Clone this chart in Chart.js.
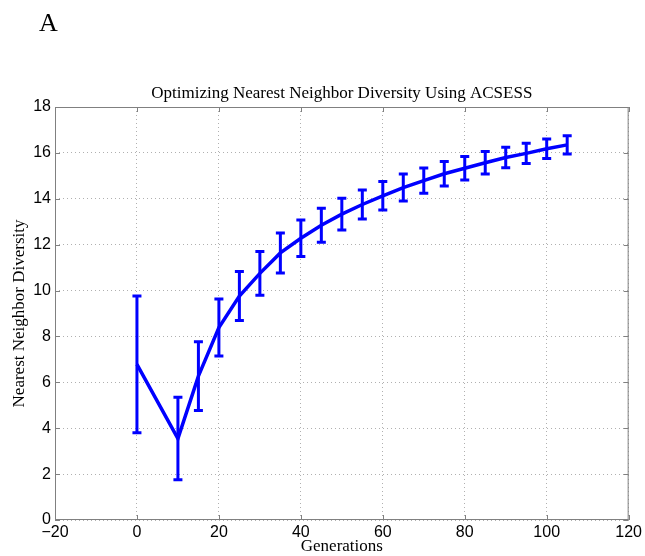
<!DOCTYPE html>
<html>
<head>
<meta charset="utf-8">
<script src="https://cdn.jsdelivr.net/npm/chart.js@4.4.0/dist/chart.umd.min.js"></script>
<style>
  body { margin: 0; background: #fff; }
  #wrap { position: relative; width: 645px; height: 556px; }
  #panel { position: absolute; left: 39px; top: 10px; font: 26px/26px "Liberation Serif", serif; color: #000; }
</style>
</head>
<body>
<div id="wrap">
  <div id="panel">A</div>
  <canvas id="myChart" width="645" height="556"></canvas>
</div>
<script>
  // generations and mean diversity with error (+/-)
  const generations = [0, 10, 15, 20, 25, 30, 35, 40, 45, 50, 55, 60, 65, 70, 75, 80, 85, 90, 95, 100, 105];
  const diversity = [6.78, 3.55, 6.27, 8.39, 9.76, 10.75, 11.64, 12.28, 12.85, 13.33, 13.75, 14.13, 14.49, 14.79, 15.09, 15.33, 15.57, 15.80, 15.98, 16.18, 16.35];
  const errors = [2.98, 1.80, 1.50, 1.24, 1.07, 0.95, 0.87, 0.80, 0.74, 0.69, 0.63, 0.62, 0.59, 0.55, 0.53, 0.51, 0.49, 0.45, 0.44, 0.42, 0.40];
  const xTicks = [-20, 0, 20, 40, 60, 80, 100, 120];
  const yTicks = [0, 2, 4, 6, 8, 10, 12, 14, 16, 18];
  const chartTitle = 'Optimizing Nearest Neighbor Diversity Using ACSESS';

  const blue = '#0000ff';
  const axisGrey = '#808080';
  const serif = '"Liberation Serif", serif';

  // error bars + box + inward ticks (matlab look), title centred on the axes
  const extras = {
    id: 'extras',
    afterDatasetsDraw(chart) {
      const c = chart.ctx;
      const xs = chart.scales.x, ys = chart.scales.y;
      c.save();
      c.strokeStyle = blue;
      c.lineWidth = 3;
      c.lineCap = 'butt';
      generations.forEach((g, i) => {
        const px = xs.getPixelForValue(g);
        const top = ys.getPixelForValue(diversity[i] + errors[i]);
        const bot = ys.getPixelForValue(diversity[i] - errors[i]);
        c.beginPath();
        c.moveTo(px, top); c.lineTo(px, bot);
        c.moveTo(px - 4.5, top); c.lineTo(px + 4.5, top);
        c.moveTo(px - 4.5, bot); c.lineTo(px + 4.5, bot);
        c.stroke();
      });
      c.restore();

      const a = chart.chartArea;
      c.save();
      c.strokeStyle = axisGrey;
      c.lineWidth = 1;
      c.strokeRect(a.left + 0.5, a.top + 0.5, a.right - a.left - 1, a.bottom - a.top - 1);
      c.beginPath();
      xTicks.forEach(t => {
        const px = Math.round(xs.getPixelForValue(t)) + 0.5;
        c.moveTo(px, a.bottom); c.lineTo(px, a.bottom - 5);
        c.moveTo(px, a.top); c.lineTo(px, a.top + 5);
      });
      yTicks.forEach(t => {
        const py = Math.round(ys.getPixelForValue(t)) + 0.5;
        c.moveTo(a.left, py); c.lineTo(a.left + 5, py);
        c.moveTo(a.right, py); c.lineTo(a.right - 5, py);
      });
      c.stroke();

      c.fillStyle = '#000';
      c.font = '17px ' + serif;
      c.textAlign = 'center';
      c.textBaseline = 'alphabetic';
      c.fillText(chartTitle, (a.left + a.right) / 2, a.top - 9);
      c.restore();
    }
  };

  const ctx = document.getElementById('myChart');
  new Chart(ctx, {
    type: 'line',
    data: {
      datasets: [{
        label: 'Nearest Neighbor Diversity',
        data: generations.map((g, i) => ({ x: g, y: diversity[i] })),
        borderColor: blue,
        borderWidth: 3.5,
        pointRadius: 0,
        tension: 0,
        fill: false
      }]
    },
    options: {
      responsive: false,
      animation: false,
      events: [],
      layout: { padding: { top: 107, right: 16, left: 0, bottom: 0 } },
      plugins: {
        legend: { display: false },
        tooltip: { enabled: false },
        title: { display: false }
      },
      scales: {
        x: {
          type: 'linear',
          min: -20,
          max: 120,
          afterBuildTicks: s => { s.ticks = xTicks.map(v => ({ value: v })); },
          afterFit: s => { s.height = 36; },
          ticks: {
            color: '#000',
            padding: 3,
            maxRotation: 0,
            font: { family: '"Liberation Sans", Arial, sans-serif', size: 16 },
            callback: v => (v < 0 ? '\u2212' + Math.abs(v) : v)
          },
          grid: { color: '#b0b0b0', lineWidth: 1, drawTicks: false },
          border: { display: false, dash: [1, 3] },
          title: {
            display: true,
            text: 'Generations',
            color: '#000',
            font: { family: serif, size: 17, lineHeight: 1.2 },
            padding: { top: 0, bottom: -1 }
          }
        },
        y: {
          min: 0,
          max: 18,
          afterBuildTicks: s => { s.ticks = yTicks.map(v => ({ value: v })); },
          afterFit: s => { s.width = 55; },
          ticks: {
            color: '#000',
            padding: 4,
            font: { family: '"Liberation Sans", Arial, sans-serif', size: 16 }
          },
          grid: { color: '#b0b0b0', lineWidth: 1, drawTicks: false },
          border: { display: false, dash: [1, 3] },
          title: {
            display: true,
            text: 'Nearest Neighbor Diversity',
            color: '#000',
            font: { family: serif, size: 17, lineHeight: 1.2 },
            padding: { top: 9, bottom: 0 }
          }
        }
      }
    },
    plugins: [extras]
  });
</script>
</body>
</html>
